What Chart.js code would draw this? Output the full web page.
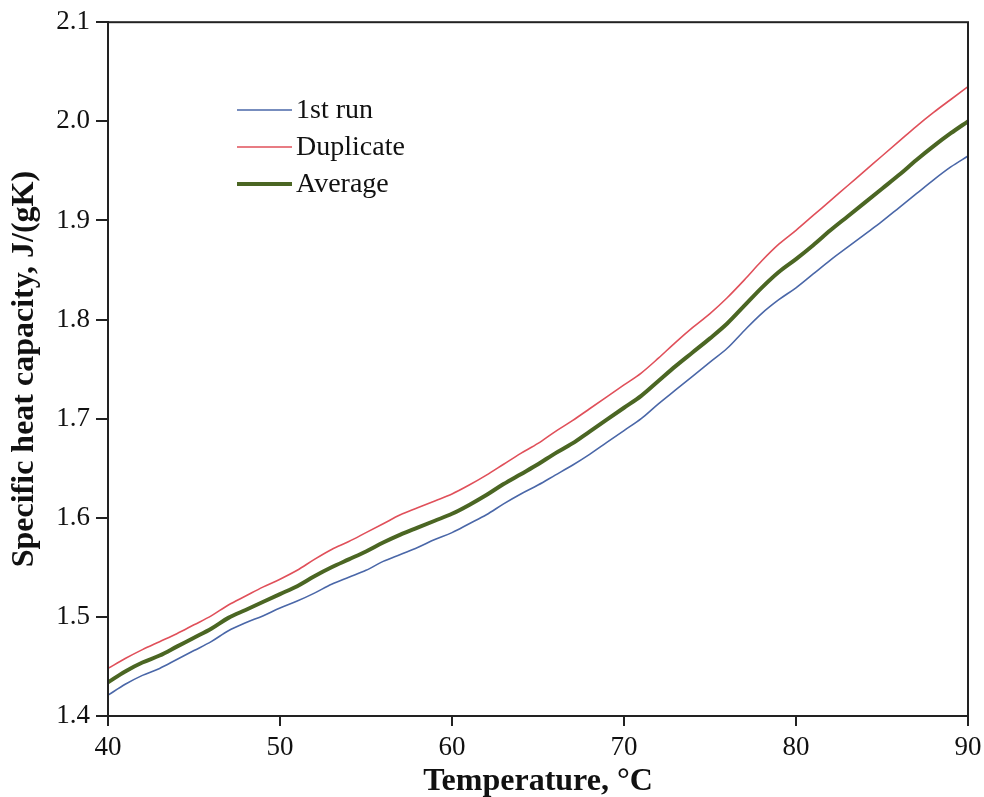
<!DOCTYPE html>
<html>
<head>
<meta charset="utf-8">
<title>Specific heat capacity</title>
<script src="https://cdn.jsdelivr.net/npm/chart.js@4.4.1/dist/chart.umd.min.js"></script>
<style>
    html, body { margin: 0; padding: 0; background: #fff; }
    #wrap { width: 984px; height: 797px; }
</style>
</head>
<body>
<div id="wrap"><canvas id="cpChart" width="984" height="797"></canvas></div>
<script>
// Temperature axis (°C) and measured heat capacity, J/(gK)
const temps = [40, 41, 42, 43, 44, 45, 46, 47, 48, 49,
    50, 51, 52, 53, 54, 55, 56, 57, 58, 59,
    60, 61, 62, 63, 64, 65, 66, 67, 68, 69,
    70, 71, 72, 73, 74, 75, 76, 77, 78, 79,
    80, 81, 82, 83, 84, 85, 86, 87, 88, 89, 90];

const firstRun = [1.421, 1.432, 1.441, 1.448, 1.457, 1.466, 1.475, 1.486, 1.494, 1.501,
    1.509, 1.516, 1.524, 1.533, 1.540, 1.547, 1.556, 1.563, 1.570, 1.578,
    1.585, 1.594, 1.603, 1.614, 1.624, 1.633, 1.643, 1.653, 1.664, 1.676,
    1.688, 1.700, 1.715, 1.729, 1.743, 1.757, 1.771, 1.789, 1.806, 1.820,
    1.832, 1.846, 1.860, 1.873, 1.886, 1.899, 1.913, 1.927, 1.941, 1.954, 1.965];

const duplicate = [1.448, 1.458, 1.467, 1.475, 1.483, 1.492, 1.501, 1.512, 1.521, 1.530,
    1.538, 1.547, 1.558, 1.568, 1.576, 1.585, 1.594, 1.603, 1.610, 1.617,
    1.624, 1.633, 1.643, 1.654, 1.665, 1.675, 1.687, 1.698, 1.710, 1.722,
    1.734, 1.746, 1.761, 1.777, 1.792, 1.806, 1.822, 1.840, 1.859, 1.876,
    1.890, 1.905, 1.920, 1.935, 1.950, 1.965, 1.980, 1.995, 2.009, 2.022, 2.035];

const average = [1.434, 1.445, 1.454, 1.461, 1.470, 1.479, 1.488, 1.499, 1.507, 1.515,
    1.523, 1.531, 1.541, 1.550, 1.558, 1.566, 1.575, 1.583, 1.590, 1.597,
    1.604, 1.613, 1.623, 1.634, 1.644, 1.654, 1.665, 1.675, 1.687, 1.699,
    1.711, 1.723, 1.738, 1.753, 1.767, 1.781, 1.796, 1.814, 1.832, 1.848,
    1.861, 1.875, 1.890, 1.904, 1.918, 1.932, 1.946, 1.961, 1.975, 1.988, 2.000];

const xTicks = [40, 50, 60, 70, 80, 90];
const yTicks = [1.4, 1.5, 1.6, 1.7, 1.8, 1.9, 2.0, 2.1];

const serif = "'Liberation Serif', 'Times New Roman', serif";
const axisColor = '#222';

function toPoints(ys) {
    return temps.map((t, i) => ({ x: t, y: ys[i] }));
}

// Frame around the plot area (top and right sides included)
const frameBox = {
    id: 'frameBox',
    afterDraw(chart) {
        const { ctx, chartArea: a } = chart;
        ctx.save();
        ctx.strokeStyle = axisColor;
        ctx.lineWidth = 2;
        ctx.strokeRect(a.left, a.top, a.right - a.left, a.bottom - a.top);
        ctx.restore();
    }
};

// Legend drawn inside the plot, upper left
const innerLegend = {
    id: 'innerLegend',
    afterDraw(chart) {
        const { ctx } = chart;
        const x0 = 237, lineLen = 55, y0 = 110, rowGap = 37;
        ctx.save();
        ctx.font = '28px ' + serif;
        ctx.textBaseline = 'middle';
        chart.data.datasets.forEach((ds, i) => {
            const y = y0 + i * rowGap;
            ctx.strokeStyle = ds.borderColor;
            ctx.lineWidth = ds.borderWidth;
            ctx.beginPath();
            ctx.moveTo(x0, y);
            ctx.lineTo(x0 + lineLen, y);
            ctx.stroke();
            ctx.fillStyle = '#111';
            ctx.fillText(ds.label, x0 + lineLen + 4, y + 1);
        });
        ctx.restore();
    }
};

new Chart(document.getElementById('cpChart'), {
    type: 'line',
    data: {
        datasets: [{
            label: '1st run',
            data: toPoints(firstRun),
            borderColor: '#4a67a8',
            borderWidth: 1.6,
            pointRadius: 0,
            cubicInterpolationMode: 'monotone'
        }, {
            label: 'Duplicate',
            data: toPoints(duplicate),
            borderColor: '#e0505a',
            borderWidth: 1.6,
            pointRadius: 0,
            cubicInterpolationMode: 'monotone'
        }, {
            label: 'Average',
            data: toPoints(average),
            borderColor: '#4b6623',
            borderWidth: 4,
            pointRadius: 0,
            cubicInterpolationMode: 'monotone'
        }]
    },
    options: {
        responsive: false,
        animation: false,
        layout: { padding: { top: 22, right: 0, left: 0, bottom: 0 } },
        plugins: {
            legend: { display: false },
            tooltip: { enabled: false }
        },
        scales: {
            x: {
                type: 'linear',
                min: 40,
                max: 90,
                afterBuildTicks: scale => { scale.ticks = xTicks.map(v => ({ value: v })); },
                afterFit: scale => { scale.height = 81; scale.paddingRight = 16; },
                grid: { drawOnChartArea: false, drawTicks: true, tickLength: 10, color: axisColor, lineWidth: 2 },
                border: { color: axisColor, width: 2 },
                ticks: {
                    color: '#111',
                    padding: 6,
                    maxRotation: 0,
                    font: { family: serif, size: 27 },
                    callback: v => String(v)
                },
                title: {
                    display: true,
                    text: 'Temperature, °C',
                    color: '#111',
                    padding: { top: 0, bottom: -4 },
                    font: { family: serif, size: 32, weight: 'bold' }
                }
            },
            y: {
                type: 'linear',
                min: 1.4,
                max: 2.1,
                afterBuildTicks: scale => { scale.ticks = yTicks.map(v => ({ value: v })); },
                afterFit: scale => { scale.width = 108; },
                grid: { drawOnChartArea: false, drawTicks: true, tickLength: 12, color: axisColor, lineWidth: 2 },
                border: { color: axisColor, width: 2 },
                ticks: {
                    color: '#111',
                    padding: 6,
                    font: { family: serif, size: 27 },
                    callback: v => Number(v).toFixed(1)
                },
                title: {
                    display: true,
                    text: 'Specific heat capacity, J/(gK)',
                    color: '#111',
                    padding: { top: 6, bottom: 0 },
                    font: { family: serif, size: 32, weight: 'bold' }
                }
            }
        }
    },
    plugins: [frameBox, innerLegend]
});
</script>
</body>
</html>
